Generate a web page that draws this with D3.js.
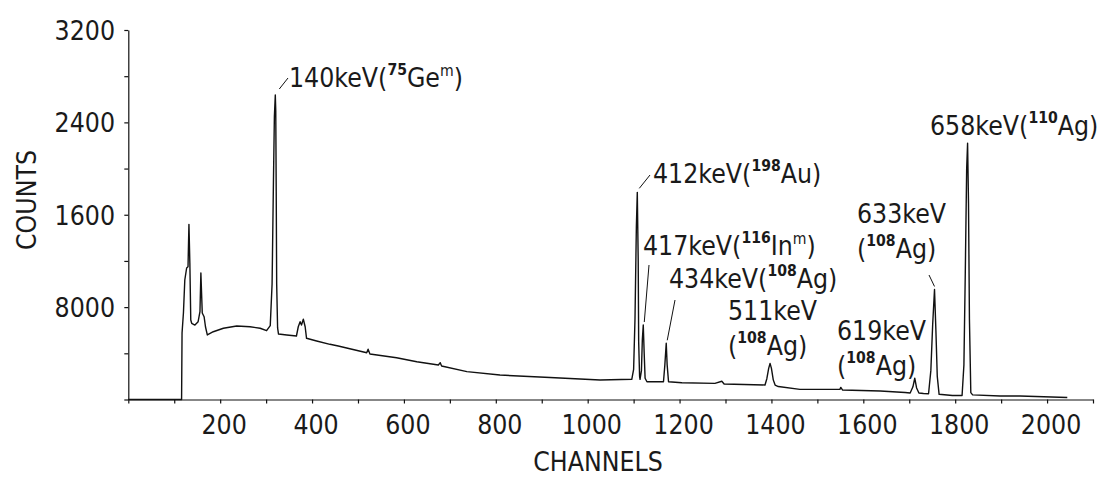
<!DOCTYPE html>
<html>
<head>
<meta charset="utf-8">
<script src="https://cdn.jsdelivr.net/npm/d3@7"></script>
<style>
  html, body { margin: 0; padding: 0; background: #fff; }
  svg { display: block; }
  text { font-family: "DejaVu Sans", sans-serif; fill: #1a1a1a; }
</style>
</head>
<body>
<svg id="chart" width="1109" height="477"></svg>
<script>
// Gamma spectrum: channel number vs counts
const channel = [
  0, 116, 117, 120, 123, 127, 130, 132, 134, 136, 138, 145, 152, 156, 158, 161, 165, 168, 172,
  185, 207, 236, 265, 287, 301, 309, 313, 316, 318, 320, 321, 322, 323, 325, 327, 345, 366,
  370, 374, 377, 381, 385, 388, 410, 439, 457, 519, 522, 526, 584, 628, 675, 679, 682, 737,
  809, 918, 1027, 1096, 1100, 1103, 1106, 1108, 1110, 1111, 1113, 1114, 1117, 1119, 1121,
  1123, 1125, 1129, 1165, 1168, 1171, 1173, 1176, 1205, 1277, 1292, 1297, 1386, 1390, 1394,
  1397, 1400, 1404, 1408, 1415, 1462, 1549, 1551, 1555, 1637, 1691, 1702, 1708, 1712, 1716,
  1721, 1731, 1742, 1747, 1751, 1755, 1758, 1761, 1765, 1794, 1815, 1819, 1822, 1825, 1827,
  1829, 1831, 1834, 1838, 1898, 1941, 2044
];
const counts = [
  0, 0, 576, 749, 1035, 1139, 1150, 1517, 1182, 688, 660, 645, 674, 760, 1095, 749, 717, 630, 559,
  587, 617, 637, 630, 617, 596, 640, 1000, 1900, 2450, 2637, 2500, 1800, 1000, 620, 567, 559, 550,
  630, 674, 645, 695, 630, 530, 507, 478, 463, 405, 435, 394, 362, 327, 299, 319, 290, 241,
  212, 190, 169, 175, 260, 700, 1500, 1794, 1200, 500, 200, 175, 250, 520, 645,
  400, 184, 154, 154, 300, 487, 300, 154, 145, 140, 158, 134, 126, 180, 270,
  313, 270, 170, 125, 112, 88, 88, 105, 82, 74, 61, 56, 110, 184, 100,
  56, 52, 50, 250, 650, 953, 600, 200, 45, 35, 35, 300, 1100, 2000, 2219,
  1700, 700, 60, 40, 30, 30, 17
];

// Axis ticks and labels
const xTicks = [0, 100, 200, 300, 400, 500, 600, 700, 800, 900, 1000, 1100, 1200, 1300, 1400,
                1500, 1600, 1700, 1800, 1900, 2000, 2100];
const xLabels = [200, 400, 600, 800, 1000, 1200, 1400, 1600, 1800, 2000];
const yTicks = [0, 400, 800, 1200, 1600, 2000, 2400, 2800, 3200];
const yLabelValues = [800, 1600, 2400, 3200];
const yLabelText = ["8000", "1600", "2400", "3200"];

// Peak annotations: text pieces ("s" = superscript number, "m" = metastable mark)
const noteParts = [
  [["140keV("], ["75", "s"], ["Ge"], ["m", "m"], [")"]],
  [["412keV("], ["198", "s"], ["Au)"]],
  [["417keV("], ["116", "s"], ["In"], ["m", "m"], [")"]],
  [["434keV("], ["108", "s"], ["Ag)"]],
  [["511keV"]],
  [["("], ["108", "s"], ["Ag)"]],
  [["619keV"]],
  [["("], ["108", "s"], ["Ag)"]],
  [["633keV"]],
  [["("], ["108", "s"], ["Ag)"]],
  [["658keV("], ["110", "s"], ["Ag)"]]
];
// label placement (left edge, baseline) in pixels
const noteLayout = [
  [289, 87], [653, 183], [643, 255], [669, 288],
  [728, 320], [728, 355], [837, 340], [837, 375],
  [857, 223], [857, 258], [930, 135]
];
// leader lines: peak channel and counts, start offset from the peak top, end point
const leaderPeak = [320, 1108, 1121, 1171, 1755];
const leaderCount = [2637, 1794, 645, 487, 953];
const leaderLayout = [
  [[4, -6], [288, 78]],
  [[2, -4], [650, 175]],
  [[1, -3], [649, 265]],
  [[1, -3], [675, 300]],
  [[0, -3], [929, 275]]
];

const svg = d3.select("#chart");
const x = d3.scaleLinear().domain([0, 2100]).range([128.3, 1093]);
const y = d3.scaleLinear().domain([0, 3200]).range([399.5, 30]);

const FS = 27, SX = 0.88, SUP = 16;

// draws horizontally condensed lettering, with optional superscripts
function letter(g, px, py, parts, anchor) {
  const t = g.append("text")
    .attr("transform", `translate(${px},${py}) scale(${SX},1)`)
    .attr("text-anchor", anchor || "start")
    .attr("font-size", FS);
  let raised = 0;
  parts.forEach(p => {
    const kind = p[1];
    const ts = t.append("tspan").text(p[0]);
    if (kind === "s" || kind === "m") {
      const rise = kind === "s" ? 12 : 11;
      ts.attr("font-size", SUP).attr("dy", -rise);
      if (kind === "s") ts.attr("font-weight", "bold");
      raised = rise;
    } else if (raised) {
      ts.attr("dy", raised);
      raised = 0;
    }
  });
  return t;
}

// axes
const axisStyle = g => {
  g.selectAll("path, line").attr("stroke", "#111").attr("stroke-width", 1.2);
};
svg.append("g")
  .attr("transform", `translate(0,${y(0)})`)
  .call(d3.axisBottom(x).tickValues(xTicks).tickSize(4).tickSizeOuter(0).tickFormat(""))
  .call(axisStyle);
svg.append("g")
  .attr("transform", `translate(${x(0)},0)`)
  .call(d3.axisLeft(y).tickValues(yTicks).tickSize(4).tickSizeOuter(0).tickFormat(""))
  .call(axisStyle);

// tick labels
const labels = svg.append("g");
xLabels.forEach(v => letter(labels, x(v) + 4, 434, [[String(v)]], "middle"));
yLabelValues.forEach((v, i) => letter(labels, 115, y(v) + 10, [[yLabelText[i]]], "end"));

// axis titles
letter(labels, 598, 471, [["CHANNELS"]], "middle");
svg.append("text")
  .attr("transform", `translate(36,200) rotate(-90) scale(${SX},1)`)
  .attr("text-anchor", "middle")
  .attr("font-size", FS)
  .text("COUNTS");

// spectrum trace
const pts = channel.map((c, i) => [c, counts[i]]);
svg.append("path")
  .datum(pts)
  .attr("fill", "none")
  .attr("stroke", "#111")
  .attr("stroke-width", 1.4)
  .attr("stroke-linejoin", "round")
  .attr("d", d3.line().x(d => x(d[0])).y(d => y(d[1])));

// leader lines
leaderPeak.forEach((c, i) => {
  const [off, end] = leaderLayout[i];
  svg.append("line")
    .attr("x1", x(c) + off[0]).attr("y1", y(leaderCount[i]) + off[1])
    .attr("x2", end[0]).attr("y2", end[1])
    .attr("stroke", "#111").attr("stroke-width", 1);
});

// peak labels
const notes = svg.append("g");
noteParts.forEach((parts, i) => letter(notes, noteLayout[i][0], noteLayout[i][1], parts, "start"));
</script>
</body>
</html>
